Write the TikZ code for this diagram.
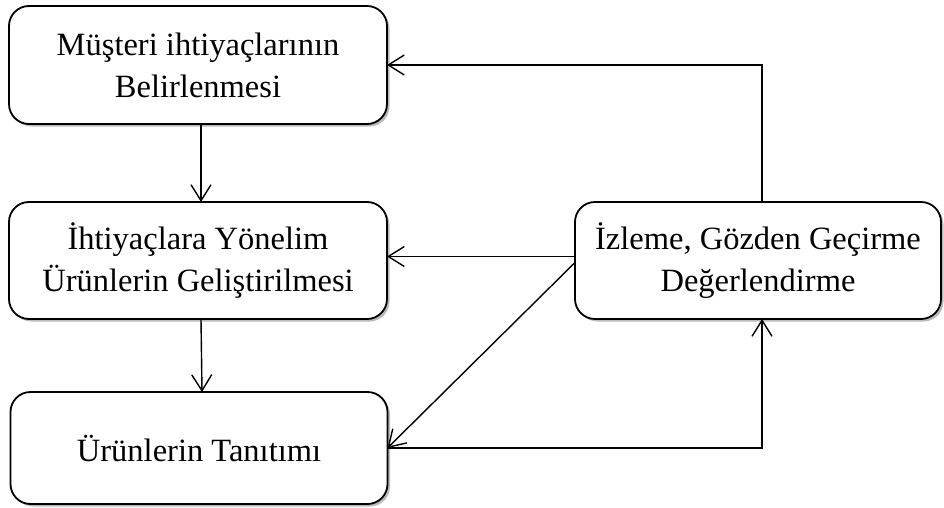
\documentclass[tikz,border=0pt]{standalone}
\usepackage{fontspec}
\setmainfont{Liberation Serif}
\usetikzlibrary{arrows.meta,shadows}

\tikzset{
  stage/.style={
    draw, line width=1.8pt, fill=white, rectangle, rounded corners=20pt,
    inner sep=0pt, outer sep=0pt, align=center,
    font=\fontsize{32.5}{42}\selectfont,
    drop shadow={shadow xshift=2.5pt, shadow yshift=-2.5pt, fill=black!45, opacity=.6}
  },
  flow/.style={line width=1.4pt, -{Straight Barb[length=16pt, width=20pt, line width=1.4pt]}}
}

\begin{document}
\begin{tikzpicture}[x=1pt, y=-1pt]
  \useasboundingbox (0,0) rectangle (944,508);

  % process stages
  \node[stage, minimum width=378pt, minimum height=118pt] (need) at (198,65)
    {Müşteri ihtiyaçlarının\\Belirlenmesi};
  \node[stage, minimum width=378pt, minimum height=117pt] (dev) at (198,260.5)
    {İhtiyaçlara Yönelim\\Ürünlerin Geliştirilmesi};
  \node[stage, minimum width=377pt, minimum height=112pt] (promo) at (199,448)
    {Ürünlerin Tanıtımı};
  \node[stage, minimum width=366pt, minimum height=117pt] (eval) at (758,260.5)
    {İzleme, Gözden Geçirme\\Değerlendirme};

  % main sequence
  \draw[flow] ([xshift=3pt]need.south) -- ([xshift=3pt]dev.north);
  \draw[flow] ([xshift=3pt]dev.south) -- ([xshift=3pt]promo.north);

  % feedback from evaluation
  \draw[flow] ([xshift=4pt]eval.north) |- (need.east);
  \draw[flow] ([yshift=4pt]eval.west) -- ([yshift=4pt]dev.east);
  \draw[flow] ([yshift=-2pt]eval.west) -- (promo.east);
  \draw[flow] (promo.east) -| ([xshift=4pt]eval.south);
\end{tikzpicture}
\end{document}
